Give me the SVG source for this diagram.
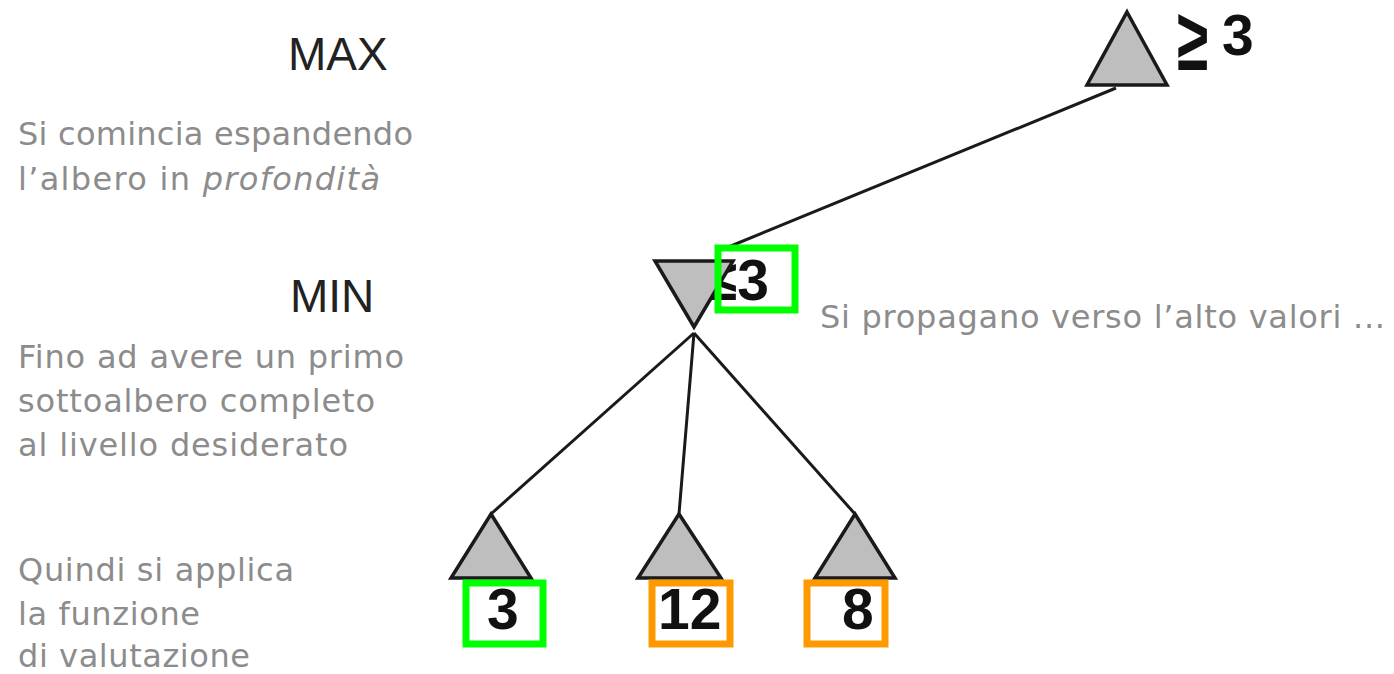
<svg xmlns="http://www.w3.org/2000/svg" width="1394" height="674" viewBox="0 0 1394 674">
<style>
.note{font-family:"DejaVu Sans",sans-serif;font-size:32px;fill:#8c8c8c}
.lvl{font-family:"Liberation Sans",sans-serif;font-size:46px;fill:#222}
.num{font-family:"Liberation Sans",sans-serif;font-size:57px;font-weight:bold;fill:#111}
.tri{fill:#bebebe;stroke:#1a1a1a;stroke-width:3.5;stroke-linejoin:miter}
.edge{stroke:#1a1a1a;stroke-width:3;fill:none}
.gbox{fill:none;stroke:#00ff00;stroke-width:7}
.obox{fill:none;stroke:#ff9900;stroke-width:7}
</style>
<rect width="1394" height="674" fill="#fff"/>
<g id="labels">
<text class="lvl" x="288" y="70">MAX</text>
<text class="lvl" x="290" y="312">MIN</text>
<text class="note" x="18" y="145" textLength="395">Si comincia espandendo</text>
<text class="note" x="18" y="190" textLength="362">l’albero in <tspan font-style="italic">profondità</tspan></text>
<text class="note" x="18" y="368" textLength="386">Fino ad avere un primo</text>
<text class="note" x="18" y="412" textLength="357">sottoalbero completo</text>
<text class="note" x="18" y="456" textLength="330">al livello desiderato</text>
<text class="note" x="18" y="581" textLength="276">Quindi si applica</text>
<text class="note" x="18" y="625" textLength="182">la funzione</text>
<text class="note" x="18" y="667" textLength="232">di valutazione</text>
<text class="note" x="820" y="328" textLength="565">Si propagano verso l’alto valori ...</text>
</g>
<g id="connectors">
<line class="edge" x1="1116" y1="88" x2="726" y2="248"/>
<line class="edge" x1="694" y1="333" x2="491" y2="514"/>
<line class="edge" x1="694" y1="333" x2="679" y2="514"/>
<line class="edge" x1="694" y1="333" x2="855" y2="514"/>
</g>
<g id="max-root">
<polygon class="tri" points="1127,12 1167,85 1087,85"/>
<text class="num" transform="translate(1177,70) scale(1,1.55)" font-size="54">≥</text>
<text class="num" x="1222" y="55" font-size="54">3</text>
</g>
<g id="min-node">
<text class="num" x="706" y="300">≤3</text>
<polygon class="tri" points="655,261 733,261 694,327"/>
<rect x="718" y="248" width="77" height="62" class="gbox"/>
</g>
<g id="leaf-3">
<polygon class="tri" points="491,514 531,578 451,578"/>
<rect class="gbox" x="466" y="583" width="77" height="61"/>
<text class="num" x="487" y="629">3</text>
</g>
<g id="leaf-12">
<polygon class="tri" points="679,514 721,578 638,578"/>
<rect class="obox" x="652" y="583" width="78" height="61"/>
<text class="num" x="658" y="629">12</text>
</g>
<g id="leaf-8">
<polygon class="tri" points="855,514 895,578 815,578"/>
<rect class="obox" x="807" y="583" width="78" height="61"/>
<text class="num" x="842" y="629">8</text>
</g>
</svg>
